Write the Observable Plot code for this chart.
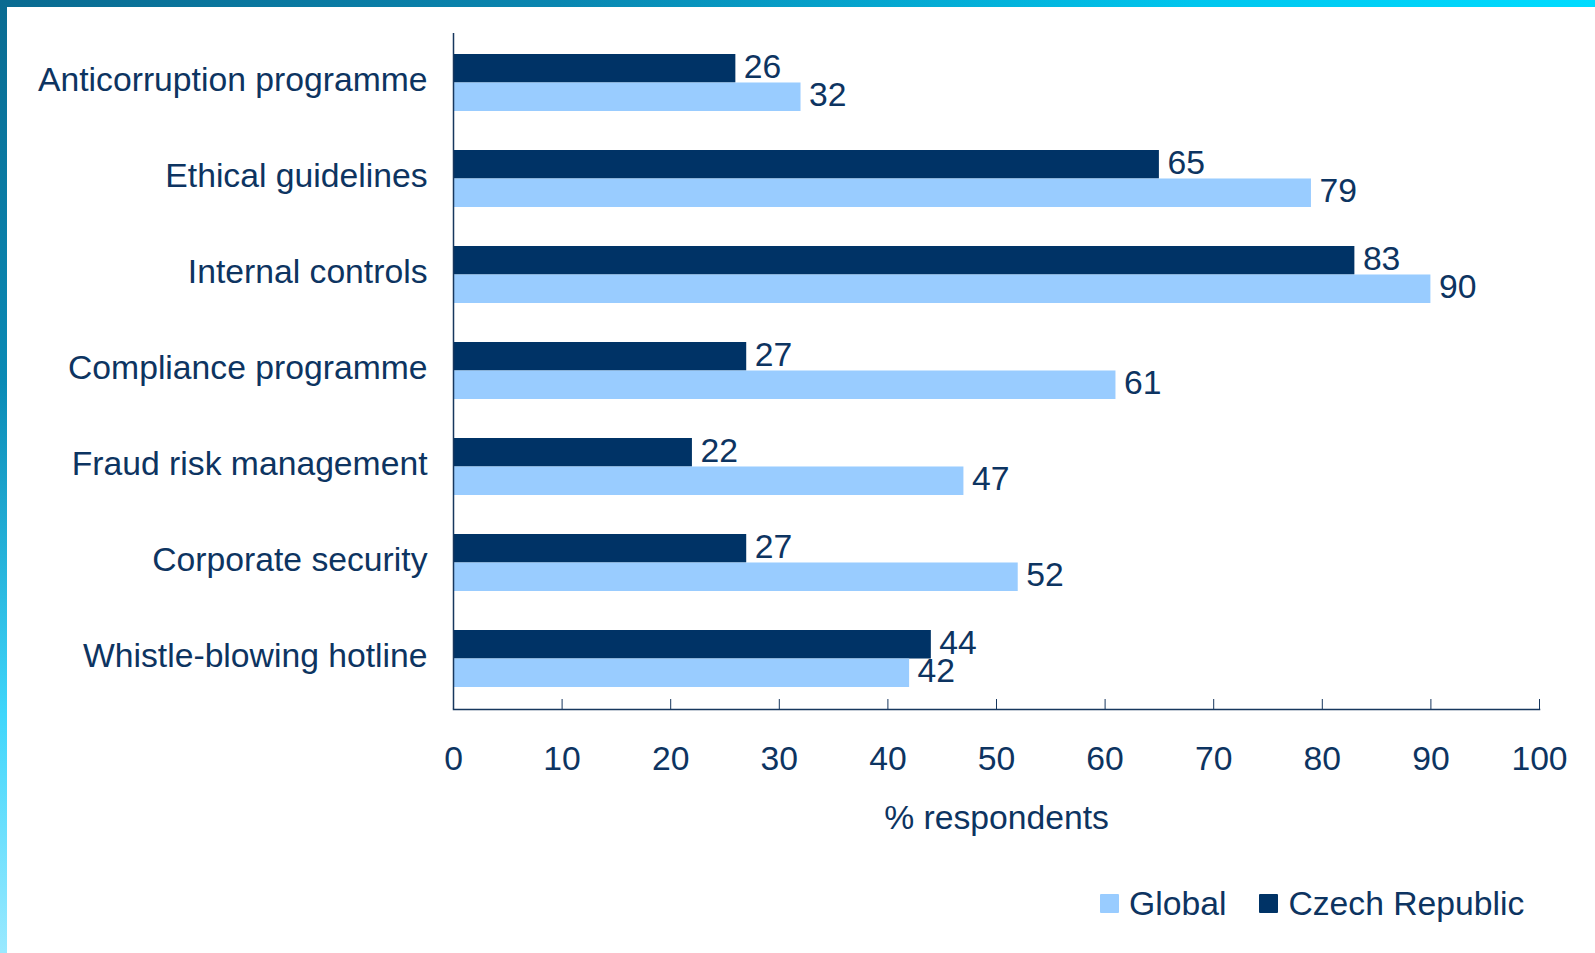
<!DOCTYPE html>
<html><head><meta charset="utf-8">
<script src="https://cdn.jsdelivr.net/npm/d3@7"></script>
<script src="https://cdn.jsdelivr.net/npm/@observablehq/plot@0.6"></script>
<style>
body{margin:0;background:#fff;width:1595px;height:953px;overflow:hidden;position:relative;font-family:"Liberation Sans",Arial,sans-serif;}
#topbar{position:absolute;left:0;top:0;width:1595px;height:7px;background:linear-gradient(to right,#0a6b91,#0a86b0 35%,#00c6ee 75%,#00dcff);z-index:2;}
#leftbar{position:absolute;left:0;top:0;width:7px;height:953px;background:linear-gradient(to bottom,#0a6b91,#0a8ab5 40%,#3fd6fb 75%,#9ae9ff);z-index:2;}
#chart{position:absolute;left:0;top:0;}
#legend{position:absolute;left:1100px;top:884px;display:flex;align-items:center;font-size:33.7px;color:#0d3461;line-height:38px;}
.item{display:flex;align-items:center;margin-right:33px;}
.sw{width:19px;height:19px;display:inline-block;margin-right:10px;border-radius:1px;}
</style>
</head><body>
<div id="topbar"></div><div id="leftbar"></div>
<div id="chart"></div>
<div id="legend"></div>
<script>
const categories = ["Anticorruption programme", "Ethical guidelines", "Internal controls", "Compliance programme", "Fraud risk management", "Corporate security", "Whistle-blowing hotline"];
const czechValues = [26, 65, 83, 27, 22, 27, 44];
const globalValues = [32, 79, 90, 61, 47, 52, 42];
const seriesNames = ["Global", "Czech Republic"];
const xTicks = [0, 10, 20, 30, 40, 50, 60, 70, 80, 90, 100];

const darkColor = "#003366";
const lightColor = "#99ccff";
const textColor = "#0d3461";
const axisColor = "#17375e";

const czechRows = categories.map((c, i) => ({category: c, value: czechValues[i]}));
const globalRows = categories.map((c, i) => ({category: c, value: globalValues[i]}));

const W = 1595, H = 850, mTop = 33, mBottom = 141, mLeft = 453, mRight = 56;
const padInner = 0.41;
const step = (H - mTop - mBottom) / categories.length;
const bw = step * (1 - padInner);
const fs = 33.7;

const chart = Plot.plot({
  width: W, height: H,
  marginTop: mTop, marginBottom: mBottom, marginLeft: mLeft, marginRight: mRight,
  style: {fontFamily: "Liberation Sans, Arial, sans-serif", fontSize: fs + "px", color: textColor, background: "transparent"},
  x: {domain: [0, 100]},
  y: {domain: categories, paddingInner: padInner, paddingOuter: padInner / 2, align: 0.5},
  marks: [
    Plot.barX(czechRows, {x: "value", y: "category", fill: darkColor, insetBottom: bw / 2, dy: -1}),
    Plot.barX(globalRows, {x: "value", y: "category", fill: lightColor, insetTop: bw / 2, dy: -1}),
    Plot.text(czechRows, {x: "value", y: "category", text: d => String(d.value), dx: 8, dy: -17, textAnchor: "start", fontSize: fs, fill: textColor}),
    Plot.text(globalRows, {x: "value", y: "category", text: d => String(d.value), dx: 8, dy: 11, textAnchor: "start", fontSize: fs, fill: textColor}),
    Plot.ruleX([0], {stroke: axisColor, strokeWidth: 1.5}),
    Plot.frame({anchor: "bottom", stroke: axisColor, strokeWidth: 1.5}),
    Plot.axisX({ticks: xTicks, tickSize: -10, tickPadding: 47, stroke: axisColor, fontSize: fs, fill: textColor,
      label: "% respondents", labelAnchor: "center", labelOffset: 119, labelArrow: "none"}),
    Plot.axisY({tickSize: 0, tickPadding: 26, fontSize: fs, fill: textColor, dy: -4, label: null})
  ]
});
document.getElementById("chart").appendChild(chart);

const legend = document.getElementById("legend");
const swatchColors = {"Global": lightColor, "Czech Republic": darkColor};
seriesNames.forEach(name => {
  const item = document.createElement("span");
  item.className = "item";
  const sw = document.createElement("span");
  sw.className = "sw";
  sw.style.background = swatchColors[name];
  item.appendChild(sw);
  item.appendChild(document.createTextNode(name));
  legend.appendChild(item);
});
</script>
</body></html>
